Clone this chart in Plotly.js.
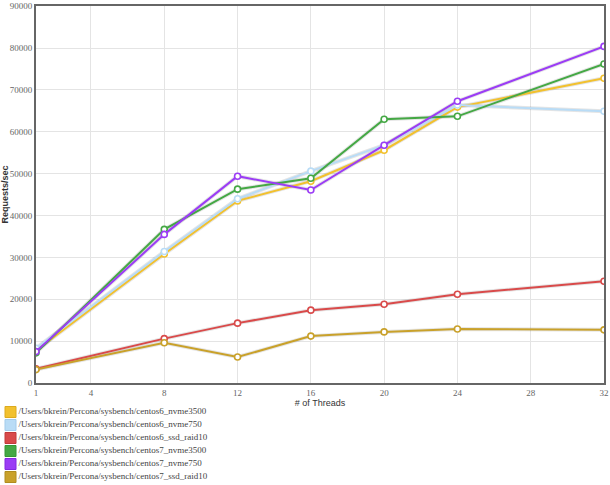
<!DOCTYPE html>
<html><head><meta charset="utf-8">
<script src="https://cdn.plot.ly/plotly-3.0.1.min.js"></script>
<style>html,body{margin:0;padding:0;background:#fff}</style>
</head><body><div id="chart" style="width:610px;height:485px"></div>
<script>
const threads = [1, 8, 12, 16, 20, 24, 32];
const seriesNames = [
  "/Users/bkrein/Percona/sysbench/centos6_nvme3500",
  "/Users/bkrein/Percona/sysbench/centos6_nvme750",
  "/Users/bkrein/Percona/sysbench/centos6_ssd_raid10",
  "/Users/bkrein/Percona/sysbench/centos7_nvme3500",
  "/Users/bkrein/Percona/sysbench/centos7_nvme750",
  "/Users/bkrein/Percona/sysbench/centos7_ssd_raid10"
];
const c6_nvme3500 = [7800, 30800, 43500, 48200, 55600, 65900, 72800];
const c6_nvme750  = [8300, 31400, 44000, 50600, 56800, 66400, 64900];
const c6_raid10   = [3400, 10600, 14300, 17400, 18800, 21200, 24300];
const c7_nvme3500 = [7200, 36700, 46300, 48900, 63000, 63700, 76200];
const c7_nvme750  = [7500, 35500, 49400, 46100, 56800, 67300, 80400];
const c7_raid10   = [3200, 9600, 6200, 11200, 12200, 12900, 12700];
const xTicks = [1, 4, 8, 12, 16, 20, 24, 28, 32];
const yTicks = [0, 10000, 20000, 30000, 40000, 50000, 60000, 70000, 80000, 90000];

const allValues = [c6_nvme3500, c6_nvme750, c6_raid10, c7_nvme3500, c7_nvme750, c7_raid10];
const colors = ["#f2c12e", "#b9dcf6", "#d94a4a", "#44a844", "#9b3cf5", "#c9a12a"];
const borders = ["#dcaa1e", "#a3cbea", "#c03a3a", "#359635", "#8328e0", "#b08c1e"];
const serif = "Liberation Serif";
const sans = "Liberation Sans";

const traces = [];
allValues.forEach((v, i) => {
  traces.push({x: threads, y: v, mode: "lines", type: "scatter", showlegend: false, hoverinfo: "skip",
    line: {color: "rgba(0,0,0,0.10)", width: 4}});
});
allValues.forEach((v, i) => {
  traces.push({x: threads, y: v, mode: "lines+markers", type: "scatter", name: seriesNames[i], showlegend: false,
    line: {color: colors[i], width: 2},
    marker: {symbol: "circle", size: 6, color: "#ffffff", line: {color: colors[i], width: 1.6}}});
});
// legend drawn as a small hidden subplot below the chart
traces.push({
  x: seriesNames.map(() => 0), y: seriesNames.map((n, i) => i),
  xaxis: "x2", yaxis: "y2", type: "scatter", mode: "markers+text", showlegend: false, hoverinfo: "skip",
  text: seriesNames, textposition: "middle right",
  textfont: {family: serif, size: 9, color: "#444"},
  marker: {symbol: "square", size: 11, color: colors, line: {color: borders, width: 1}}
});

const W = 604; // paper width (l=0, r=6)
const H = 479; // paper height (t=6, b=0)
const layout = {
  width: 610, height: 485,
  margin: {l: 0, r: 6, t: 6, b: 0, autoexpand: false},
  paper_bgcolor: "#fff", plot_bgcolor: "#fff",
  showlegend: false,
  xaxis: {
    domain: [36 / W, 1],
    range: [1, 32], tickvals: xTicks, ticktext: xTicks.map(String),
    showgrid: true, gridcolor: "#e4e4e4", gridwidth: 1,
    showline: true, linecolor: "#666", linewidth: 2, mirror: true,
    zeroline: false, ticks: "", automargin: false,
    tickfont: {family: serif, size: 9, color: "#666"},
    title: {text: "# of Threads", font: {family: sans, size: 9, color: "#333"}, standoff: 1}
  },
  yaxis: {
    domain: [(485 - 383) / H, 1],
    range: [0, 90050], tickvals: yTicks, ticktext: yTicks.map(String),
    showgrid: true, gridcolor: "#e4e4e4", gridwidth: 1,
    showline: true, linecolor: "#666", linewidth: 2, mirror: true,
    zeroline: false, ticks: "", automargin: false,
    tickfont: {family: serif, size: 9, color: "#666"},
    title: {text: "<b>Requests/sec</b>", font: {family: sans, size: 9, color: "#333"}, standoff: 2}
  },
  xaxis2: {
    domain: [0, 0.5], anchor: "y2",
    range: [-10.5 / 302, 1 - 10.5 / 302],
    visible: false, fixedrange: true
  },
  yaxis2: {
    domain: [(485 - 483.5) / H, (485 - 405.5) / H], anchor: "x2",
    range: [5.5, -0.5],
    visible: false, fixedrange: true
  }
};
Plotly.newPlot("chart", traces, layout, {displayModeBar: false, staticPlot: true});
</script></body></html>
